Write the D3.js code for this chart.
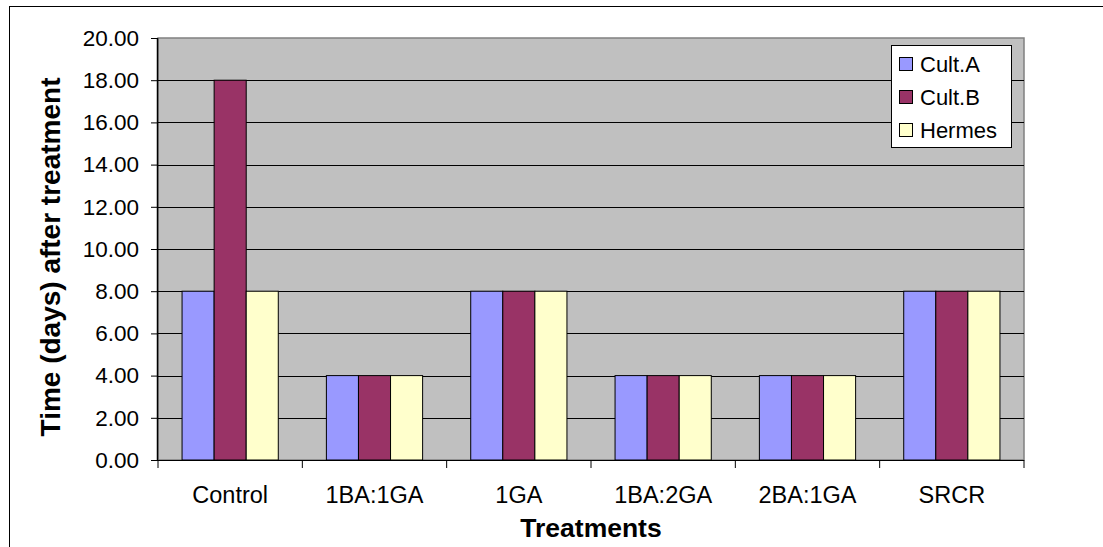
<!DOCTYPE html>
<html><head><meta charset="utf-8">
<script src="https://cdn.jsdelivr.net/npm/d3@7"></script>
<style>
html,body{margin:0;padding:0;background:#fff;}
svg{display:block;font-family:Arial,"Liberation Sans",sans-serif;}
</style></head>
<body>
<svg id="chart" width="1103" height="547"></svg>
<script>
const categories = ["Control","1BA:1GA","1GA","1BA:2GA","2BA:1GA","SRCR"];
const seriesNames = ["Cult.A","Cult.B","Hermes"];
const cultA = [8,4,8,4,4,8];
const cultB = [18,4,8,4,4,8];
const hermes = [8,4,8,4,4,8];
const seriesColors = ["#9999FF","#993366","#FFFFCC"];
const yTicks = [0,2,4,6,8,10,12,14,16,18,20];

const seriesValues = [cultA, cultB, hermes];
const svg = d3.select("#chart");
const m = {left:158, right:1024, top:38, bottom:460};
const FONT = "Arial,'Liberation Sans',sans-serif";

// outer border (top and left visible, others beyond the frame)
svg.append("rect").attr("x",9.5).attr("y",6.5).attr("width",1200).attr("height",700)
  .attr("fill","none").attr("stroke","#000").attr("stroke-width",1);

const x = d3.scaleBand().domain(categories).range([m.left,m.right]).paddingInner(0).paddingOuter(0);
const y = d3.scaleLinear().domain([0,20]).range([m.bottom,m.top]);
const barW = x.bandwidth()/4.5;
const xs = d3.scaleBand().domain(seriesNames).range([0, 3*barW]);

// plot area
svg.append("rect").attr("x",m.left).attr("y",m.top).attr("width",m.right-m.left).attr("height",m.bottom-m.top)
  .attr("fill","#C0C0C0").attr("stroke","#808080").attr("stroke-width",1.5);

// gridlines
svg.append("g").selectAll("line").data(yTicks.filter(d=>d>0 && d<20)).join("line")
  .attr("x1",m.left).attr("x2",m.right)
  .attr("y1",d=>Math.round(y(d))+0.5).attr("y2",d=>Math.round(y(d))+0.5)
  .attr("stroke","#000").attr("stroke-width",1);

// bars
const g = svg.append("g");
seriesNames.forEach((s,si)=>{
  g.append("g").selectAll("rect").data(categories).join("rect")
    .attr("x",(c)=>x(c)+ (x.bandwidth()-3*barW)/2 + xs(s))
    .attr("y",(c,i)=>y(seriesValues[si][i]))
    .attr("width",barW)
    .attr("height",(c,i)=>y(0)-y(seriesValues[si][i]))
    .attr("fill",seriesColors[si]).attr("stroke","#000").attr("stroke-width",1);
});

// y axis
const yAxis = d3.axisLeft(y).tickValues(yTicks).tickFormat(d3.format(".2f")).tickSize(7).tickPadding(12);
const ya = svg.append("g").attr("transform",`translate(${m.left},0)`).call(yAxis);
ya.select(".domain").attr("stroke","#000").attr("stroke-width",1.5).attr("d",`M-0.5,${m.top}V${m.bottom}`);
ya.selectAll(".tick line").attr("stroke","#000");
ya.selectAll("text").attr("font-size","22.5px").attr("fill","#000").style("font-family",FONT);

// x axis
const xAxis = d3.axisBottom(x).tickSize(0).tickPadding(0);
const xa = svg.append("g").attr("transform",`translate(0,${m.bottom})`).call(xAxis);
xa.select(".domain").remove();
xa.append("line").attr("x1",m.left).attr("x2",m.right).attr("y1",0.5).attr("y2",0.5).attr("stroke","#000");
xa.selectAll(".xt").data(d3.range(categories.length+1)).join("line").attr("class","xt")
  .attr("x1",i=>m.left+i*x.bandwidth()).attr("x2",i=>m.left+i*x.bandwidth())
  .attr("y1",0).attr("y2",8).attr("stroke","#000");
xa.selectAll(".tick text").attr("y",43).attr("dy",0).attr("font-size","23.5px").attr("fill","#000")
  .style("font-family",FONT);

// axis titles
svg.append("text").attr("x",(m.left+m.right)/2).attr("y",537).attr("text-anchor","middle")
  .attr("font-size","26.5px").attr("font-weight","bold").text("Treatments");
svg.append("text").attr("transform",`translate(60,257) rotate(-90)`).attr("text-anchor","middle")
  .attr("font-size","28px").attr("font-weight","bold").text("Time (days) after treatment");

// legend
const lg = svg.append("g").attr("transform","translate(891,45)");
lg.append("rect").attr("x",0.5).attr("y",0.5).attr("width",120).attr("height",102)
  .attr("fill","#fff").attr("stroke","#000").attr("stroke-width",1);
const li = lg.selectAll(".li").data(seriesNames).join("g").attr("class","li")
  .attr("transform",(d,i)=>`translate(0,${19+i*33})`);
li.append("rect").attr("x",8.5).attr("y",-6.5).attr("width",13).attr("height",13)
  .attr("fill",(d,i)=>seriesColors[i]).attr("stroke","#000");
li.append("text").attr("x",29).attr("y",8).attr("font-size","22px").text(d=>d);
</script>
</body></html>
